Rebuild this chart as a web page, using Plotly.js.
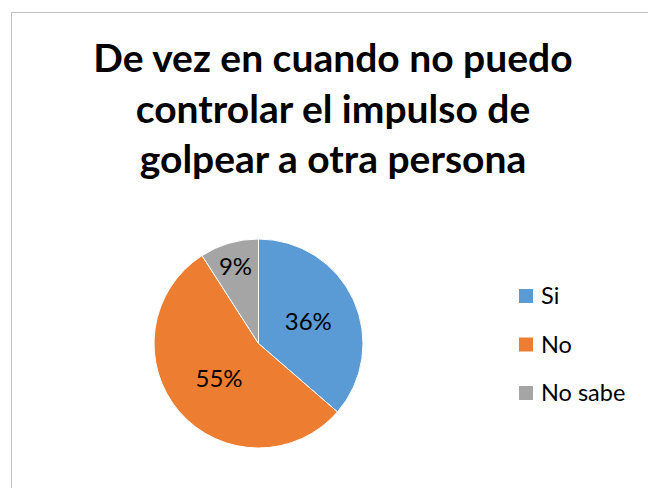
<!DOCTYPE html>
<html>
<head>
<meta charset="utf-8">
<script src="https://cdn.plot.ly/plotly-3.0.1.min.js"></script>
<style>html,body{margin:0;padding:0;background:#fff;}#chart{width:648px;height:488px;}</style>
</head>
<body>
<div id="chart"></div>
<script>
const labels = ["Si", "No", "No sabe"];
const values = [4, 6, 1];
const colors = ["#5B9BD5", "#ED7D31", "#A5A5A5"];
const titleText = "De vez en cuando no puedo<br>controlar el impulso de<br>golpear a otra persona";

const W = 648, H = 488;
const FONT = "Lato, 'Open Sans', sans-serif";

const shapes = [{
  type: "rect", xref: "paper", yref: "paper",
  x0: 11.5 / W, x1: 700 / W, y0: 1 - 12.5 / H, y1: -0.2,
  line: { color: "#BFBFBF", width: 1 }, fillcolor: "rgba(0,0,0,0)", layer: "below"
}];
const annotations = [];
labels.forEach((lab, i) => {
  const cy = 296 + i * 48.5;
  shapes.push({
    type: "rect", xref: "paper", yref: "paper",
    x0: 519 / W, x1: 533 / W, y0: 1 - (cy - 7) / H, y1: 1 - (cy + 7) / H,
    line: { width: 0 }, fillcolor: colors[i]
  });
  annotations.push({
    xref: "paper", yref: "paper", x: 539 / W, y: 1 - (cy - 1) / H,
    xanchor: "left", yanchor: "middle", showarrow: false,
    text: lab, font: { family: FONT, size: 23.5, color: "#000" }
  });
});

const data = [{
  type: "pie",
  labels: labels,
  values: values,
  sort: false,
  direction: "clockwise",
  rotation: 0,
  marker: { colors: colors, line: { color: "#FFFFFF", width: 1 } },
  textinfo: "percent",
  texttemplate: "%{percent:.0%}",
  textposition: "inside",
  insidetextorientation: "horizontal",
  textfont: { family: FONT, size: 24, color: "#000" },
  showlegend: false,
  hoverinfo: "none",
  domain: { x: [154 / W, 363 / W], y: [1 - 448 / H, 1 - 239 / H] }
}];

const layout = {
  width: W, height: H,
  margin: { l: 0, r: 0, t: 0, b: 0 },
  paper_bgcolor: "#fff",
  showlegend: false,
  title: {
    text: titleText,
    font: { family: FONT, size: 39, color: "#000", weight: "bold" },
    x: 333 / W, xanchor: "center", xref: "paper",
    y: 1 - 72 / H, yanchor: "top", yref: "paper"
  },
  shapes: shapes,
  annotations: annotations
};

Plotly.newPlot("chart", data, layout, { displayModeBar: false, staticPlot: true });
</script>
</body>
</html>
